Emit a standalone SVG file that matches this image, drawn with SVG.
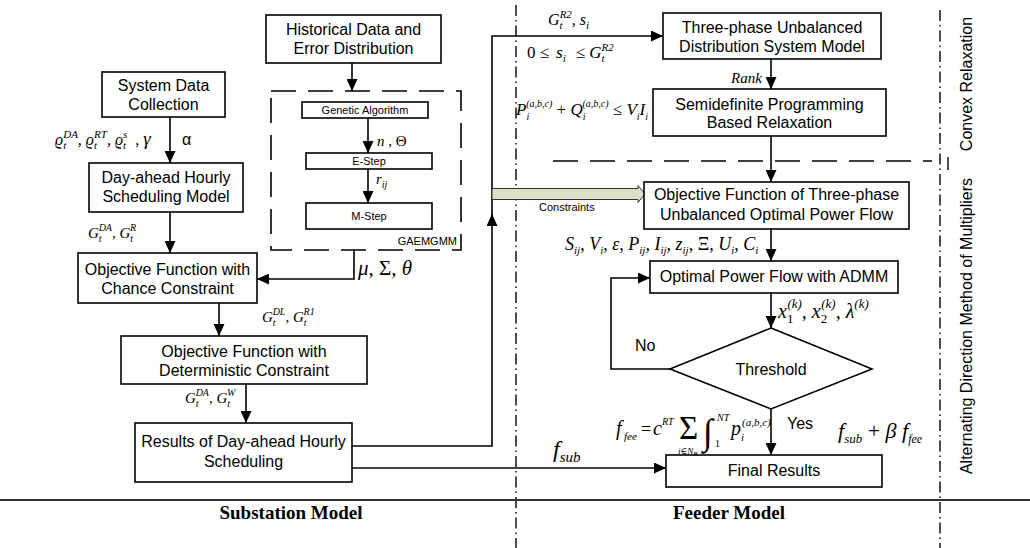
<svg xmlns="http://www.w3.org/2000/svg" width="1030" height="548" viewBox="0 0 1030 548">
  <defs>
    <marker id="ah" markerUnits="userSpaceOnUse" markerWidth="12" markerHeight="11" refX="12" refY="5.5" orient="auto">
      <path d="M0,0 L12,5.5 L0,11 z" fill="#000"/>
    </marker>
    <style>
      .box { fill: #fff; stroke: #000; stroke-width: 1.6; }
      .t { font-family: "Liberation Sans", Arial, sans-serif; font-size: 16px; fill: #000; text-anchor: middle; }
      .ts { font-family: "Liberation Sans", Arial, sans-serif; font-size: 11px; fill: #000; }
      .lbl { font-family: "Liberation Sans", Arial, sans-serif; font-size: 16px; fill: #000; }
      .m { font-family: "Liberation Serif", "DejaVu Serif", serif; font-style: italic; fill: #000; }
      .up { font-style: normal; }
      .c { fill: none; stroke: #000; stroke-width: 1.6; }
      .ca { fill: none; stroke: #000; stroke-width: 1.6; marker-end: url(#ah); }
      .dash { fill: none; stroke: #000; stroke-width: 1.6; stroke-dasharray: 25 12; }
      .dashdot { fill: none; stroke: #000; stroke-width: 1.4; stroke-dasharray: 11 4 1.5 4; }
      .head { font-family: "Liberation Serif", "Times New Roman", serif; font-weight: bold; font-size: 19px; fill: #000; text-anchor: middle; }
      .side { font-family: "Liberation Sans", Arial, sans-serif; font-size: 16px; fill: #000; text-anchor: middle; }
    </style>
  </defs>
  <rect width="1030" height="548" fill="#fff"/>

  <!-- frame lines: column dividers, model separator, stage divider -->
  <g id="frame">
    <line class="dashdot" x1="516" y1="5" x2="516" y2="548"/>
    <line class="dashdot" x1="940" y1="10" x2="940" y2="548"/>
    <line x1="0" y1="500" x2="1030" y2="500" stroke="#333" stroke-width="2"/>
    <line class="dash" x1="553" y1="161" x2="932" y2="161" stroke-dasharray="24 12"/>
    <line x1="948" y1="157" x2="948" y2="170" stroke="#000" stroke-width="1.4"/>
    <text class="side" transform="translate(972,84) rotate(-90)">Convex Relaxation</text>
    <text class="side" transform="translate(972,326) rotate(-90)">Alternating Direction Method of Multipliers</text>
    <text class="head" x="291" y="519">Substation Model</text>
    <text class="head" x="729" y="519">Feeder Model</text>
  </g>

  <!-- GAEMGMM container -->
  <g id="gaemgmm">
    <rect x="271" y="91" width="190" height="159" class="dash"/>
    <text class="ts" x="457" y="245" text-anchor="end">GAEMGMM</text>
  </g>

  <!-- connectors -->
  <g id="connectors">
    <line class="ca" x1="170" y1="117" x2="170" y2="163"/>
    <line class="ca" x1="352" y1="63" x2="352" y2="91"/>
    <line class="ca" x1="368" y1="118" x2="368" y2="153"/>
    <line class="ca" x1="368" y1="169" x2="368" y2="203"/>
    <line class="ca" x1="170" y1="212" x2="170" y2="253"/>
    <polyline class="ca" points="354,250 354,279 257,279"/>
    <line class="ca" x1="219" y1="303" x2="219" y2="336"/>
    <line class="ca" x1="246" y1="384" x2="246" y2="423"/>
    <polyline class="ca" points="352,446 492,446 492,214"/>
    <polyline class="ca" points="492,216 492,36 663,36"/>
    <line class="ca" x1="352" y1="468" x2="666" y2="468"/>
    <line class="ca" x1="771" y1="59" x2="771" y2="89"/>
    <line class="ca" x1="771" y1="136" x2="771" y2="182"/>
    <polygon points="492,188.5 638,188.5 638,185.5 645,194 638,202.5 638,199.5 492,199.5" fill="#dcdec8" stroke="#333" stroke-width="1"/>
    <line class="ca" x1="771" y1="229" x2="771" y2="261"/>
    <line class="ca" x1="771" y1="293" x2="771" y2="328"/>
    <line class="ca" x1="771" y1="409" x2="771" y2="455"/>
    <polyline class="ca" points="670,369 611,369 611,278 650,278"/>
  </g>

  <!-- substation side nodes -->
  <g id="system-data">
    <rect class="box" x="102" y="72" width="123" height="45"/>
    <text class="t" x="163.5" y="91">System Data</text>
    <text class="t" x="163.5" y="110">Collection</text>
  </g>
  <g id="historical-data">
    <rect class="box" x="266" y="15" width="175" height="48"/>
    <text class="t" x="353.5" y="35">Historical Data and</text>
    <text class="t" x="353.5" y="54">Error Distribution</text>
  </g>
  <g id="genetic-algorithm">
    <rect class="box" x="302" y="102" width="126" height="16"/>
    <text class="ts" x="365" y="114" text-anchor="middle">Genetic Algorithm</text>
  </g>
  <g id="e-step">
    <rect class="box" x="306" y="153" width="126" height="16"/>
    <text class="ts" x="369" y="165" text-anchor="middle">E-Step</text>
  </g>
  <g id="m-step">
    <rect class="box" x="306" y="203" width="126" height="26"/>
    <text class="ts" x="369" y="220" text-anchor="middle">M-Step</text>
  </g>
  <g id="day-ahead-model">
    <rect class="box" x="89" y="163" width="154" height="49"/>
    <text class="t" x="166" y="183">Day-ahead Hourly</text>
    <text class="t" x="166" y="202">Scheduling Model</text>
  </g>
  <g id="chance-constraint">
    <rect class="box" x="78" y="253" width="179" height="50"/>
    <text class="t" x="167.5" y="275">Objective Function with</text>
    <text class="t" x="167.5" y="294">Chance Constraint</text>
  </g>
  <g id="deterministic-constraint">
    <rect class="box" x="121" y="336" width="246" height="48"/>
    <text class="t" x="244" y="357">Objective Function with</text>
    <text class="t" x="244" y="376">Deterministic Constraint</text>
  </g>
  <g id="day-ahead-results">
    <rect class="box" x="135" y="423" width="217" height="59"/>
    <text class="t" x="243.5" y="447">Results of Day-ahead Hourly</text>
    <text class="t" x="243.5" y="467">Scheduling</text>
  </g>

  <!-- feeder side nodes -->
  <g id="three-phase-model">
    <rect class="box" x="663" y="13" width="218" height="46"/>
    <text class="t" x="772" y="33">Three-phase Unbalanced</text>
    <text class="t" x="772" y="52">Distribution System Model</text>
  </g>
  <g id="sdp-relaxation">
    <rect class="box" x="653" y="89" width="233" height="47"/>
    <text class="t" x="769.5" y="110">Semidefinite Programming</text>
    <text class="t" x="769.5" y="128">Based Relaxation</text>
  </g>
  <g id="opf-objective">
    <rect class="box" x="644" y="182" width="265" height="47"/>
    <text class="t" x="776.5" y="200">Objective Function of Three-phase</text>
    <text class="t" x="776.5" y="220">Unbalanced Optimal Power Flow</text>
  </g>
  <g id="opf-admm">
    <rect class="box" x="650" y="261" width="248" height="32"/>
    <text class="t" x="774" y="282">Optimal Power Flow with ADMM</text>
  </g>
  <g id="threshold">
    <polygon class="box" points="771,328 872,369 771,409 670,369"/>
    <text class="t" x="771" y="375">Threshold</text>
  </g>
  <g id="final-results">
    <rect class="box" x="666" y="455" width="216" height="32"/>
    <text class="t" x="774" y="476">Final Results</text>
  </g>

  <!-- connector labels -->
  <g id="labels">
    <text class="m" x="55" y="145" font-size="16">ϱ<tspan font-size="11" dy="4">t</tspan><tspan font-size="11" dx="-3" dy="-11">DA</tspan><tspan dy="7">, ϱ</tspan><tspan font-size="11" dy="4">t</tspan><tspan font-size="11" dx="-3" dy="-11">RT</tspan><tspan dy="7">, ϱ</tspan><tspan font-size="11" dy="4">t</tspan><tspan font-size="11" dx="-3" dy="-11">s</tspan><tspan dy="7" dx="8">, </tspan><tspan font-size="19">γ</tspan></text>
    <text class="lbl" x="182" y="145" font-size="15">α</text>

    <text class="m" x="88" y="238" font-size="15">G<tspan font-size="10" dy="4">t</tspan><tspan font-size="10" dx="-3" dy="-11">DA</tspan><tspan dy="7">, G</tspan><tspan font-size="10" dy="4">t</tspan><tspan font-size="10" dx="-3" dy="-11">R</tspan></text>
    <text class="m" x="262" y="322" font-size="15">G<tspan font-size="10" dy="4">t</tspan><tspan font-size="10" dx="-3" dy="-11">DL</tspan><tspan dy="7">, G</tspan><tspan font-size="10" dy="4">t</tspan><tspan font-size="10" dx="-3" dy="-11">R1</tspan></text>
    <text class="m" x="185" y="403" font-size="15">G<tspan font-size="10" dy="4">t</tspan><tspan font-size="10" dx="-3" dy="-11">DA</tspan><tspan dy="7">, G</tspan><tspan font-size="10" dy="4">t</tspan><tspan font-size="10" dx="-3" dy="-11">W</tspan></text>

    <text class="m" x="358" y="275" font-size="21">μ, <tspan class="up">Σ</tspan>, θ</text>
    <text class="m" x="377" y="146" font-size="15">n <tspan class="up">, Θ</tspan></text>
    <text class="m" x="376" y="184" font-size="15">r<tspan font-size="10" dy="4">ij</tspan></text>

    <text class="m" x="553" y="457" font-size="24">f<tspan font-size="15" dy="5">sub</tspan></text>

    <text class="m" x="548" y="25" font-size="16">G<tspan font-size="11" dy="4">t</tspan><tspan font-size="11" dx="-3" dy="-11">R2</tspan><tspan dy="7">, s</tspan><tspan font-size="11" dy="4">i</tspan></text>
    <text class="m" x="527" y="58" font-size="17"><tspan class="up">0 ≤</tspan><tspan dx="7">s</tspan><tspan font-size="11" dy="4">i</tspan><tspan class="up" dy="-4" dx="10">≤</tspan><tspan dx="4">G</tspan><tspan font-size="11" dy="4">t</tspan><tspan font-size="11" dx="-3" dy="-11">R2</tspan></text>
    <text class="m" x="516" y="115" font-size="17">P<tspan font-size="10" dy="5">i</tspan><tspan font-size="10" dx="-3" dy="-13">(a,b,c)</tspan><tspan class="up" dy="8"> + </tspan>Q<tspan font-size="10" dy="5">i</tspan><tspan font-size="10" dx="-3" dy="-13">(a,b,c)</tspan><tspan class="up" dy="8"> ≤ </tspan>V<tspan font-size="10" dy="5">i</tspan><tspan dy="-5">I</tspan><tspan font-size="10" dy="5">i</tspan></text>

    <text class="m" x="731" y="83" font-size="15">Rank</text>
    <text class="ts" x="539" y="211">Constraints</text>

    <text class="m" x="565" y="250" font-size="18">S<tspan font-size="11" dy="4">ij</tspan><tspan dy="-4">, V</tspan><tspan font-size="11" dy="4">i</tspan><tspan dy="-4">, ε, P</tspan><tspan font-size="11" dy="4">ij</tspan><tspan dy="-4">, I</tspan><tspan font-size="11" dy="4">ij</tspan><tspan dy="-4">, z</tspan><tspan font-size="11" dy="4">ij</tspan><tspan dy="-4">, <tspan class="up">Ξ</tspan>, U</tspan><tspan font-size="11" dy="4">i</tspan><tspan dy="-4">, C</tspan><tspan font-size="11" dy="4">i</tspan></text>

    <text class="m" x="778" y="318" font-size="20">x<tspan font-size="13" class="up" dy="5">1</tspan><tspan font-size="13" dx="-6" dy="-15">(k)</tspan><tspan dy="10">, x</tspan><tspan font-size="13" class="up" dy="5">2</tspan><tspan font-size="13" dx="-6" dy="-15">(k)</tspan><tspan dy="10">, λ</tspan><tspan font-size="13" dy="-10">(k)</tspan></text>

    <text class="lbl" x="635" y="351">No</text>
    <text class="lbl" x="787" y="429">Yes</text>

    <!-- feeder cost expression -->
    <text class="m" font-size="20" x="616" y="435">f</text>
    <text class="m" font-size="11" x="624" y="440">fee</text>
    <text class="m up" font-size="18" x="641" y="435">=</text>
    <text class="m" font-size="20" x="653" y="435">c</text>
    <text class="m" font-size="10" x="662" y="425">RT</text>
    <text class="m up" font-size="33" x="679" y="439">Σ</text>
    <text class="m" font-size="9" x="678" y="454">i∈N<tspan font-size="7" dy="2">B</tspan></text>
    <text class="m up" font-size="36" x="703" y="444">∫</text>
    <text class="m" font-size="10" x="717" y="421">NT</text>
    <text class="m up" font-size="10" x="715" y="447">1</text>
    <text class="m" font-size="20" x="731" y="435">p</text>
    <text class="m" font-size="11" x="741" y="441">i</text>
    <text class="m" font-size="11" x="742" y="426">(a,b,c)</text>

    <text class="m" x="838" y="438" font-size="22">f<tspan font-size="13" dy="5">sub</tspan><tspan class="up" dy="-5"> + </tspan>β f<tspan font-size="12" dy="5">fee</tspan></text>
  </g>
</svg>
